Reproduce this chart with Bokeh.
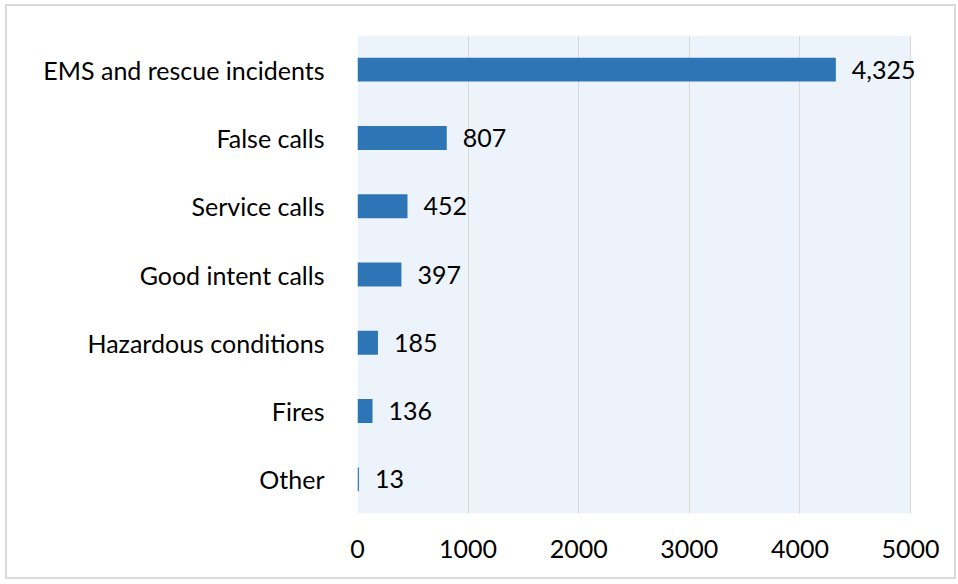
from bokeh.plotting import figure
from bokeh.models import Range1d, FactorRange, ColumnDataSource, LabelSet, FixedTicker, BoxAnnotation
from bokeh.core.properties import value
from bokeh.embed import file_html
from bokeh.resources import INLINE

categories = ["EMS and rescue incidents", "False calls", "Service calls", "Good intent calls",
              "Hazardous conditions", "Fires", "Other"]
values = [4325, 807, 452, 397, 185, 136, 13]
value_labels = ["4,325", "807", "452", "397", "185", "136", "13"]
x_ticks = [0, 1000, 2000, 3000, 4000, 5000]
axis_max = 5000

FONT = "Lato"
FS = "25px"

src = ColumnDataSource(dict(cat=categories, val=values, lab=value_labels))

# frame extends past the axis max so the data labels are not clipped
frame_w_axis = 553   # pixels spanned by 0..axis_max
frame_w = 591
p = figure(width=951, height=575, output_backend="svg", toolbar_location=None,
           y_range=FactorRange(*reversed(categories), range_padding=0),
           x_range=Range1d(0, axis_max * frame_w / frame_w_axis),
           min_border_left=350, min_border_right=951 - 350 - frame_w, min_border_top=29, min_border_bottom=68,
           styles={"border": "2px solid #D9D9D9", "margin-left": "5px", "margin-top": "4px"})

p.background_fill_color = "white"
p.border_fill_color = "white"
p.outline_line_color = None

bg = BoxAnnotation(left=0, right=axis_max, fill_color="#EDF3FA", fill_alpha=1.0,
                   line_color=None, level="image")
p.add_layout(bg)

p.hbar(y="cat", right="val", left=0, height=0.35, source=src,
       fill_color="#2E75B6", line_color=None)

labels = LabelSet(x="val", y="cat", text="lab", source=src, x_offset=16,
                  text_baseline="middle", text_align="left",
                  text_font=value(FONT), text_font_size=value(FS), text_color="black")
p.add_layout(labels)

p.xaxis.ticker = FixedTicker(ticks=x_ticks)
p.xaxis.axis_line_color = None
p.xaxis.major_tick_line_color = None
p.xaxis.minor_tick_line_color = None
p.xaxis.major_label_standoff = 20
p.xaxis.major_label_text_font = FONT
p.xaxis.major_label_text_font_size = FS
p.xaxis.major_label_text_color = "black"

p.yaxis.axis_line_color = None
p.yaxis.major_tick_line_color = None
p.yaxis.major_label_standoff = 27
p.yaxis.major_label_text_font = FONT
p.yaxis.major_label_text_font_size = FS
p.yaxis.major_label_text_color = "black"

p.xgrid.grid_line_color = "#D9D9D9"
p.xgrid.grid_line_width = 1
p.ygrid.grid_line_color = None

open("out.html", "w").write(file_html(p, INLINE))
